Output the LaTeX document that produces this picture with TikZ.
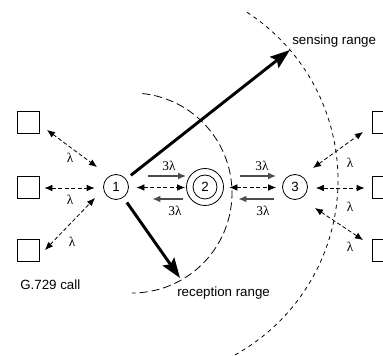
\documentclass[tikz,border=0pt]{standalone}
\usepackage{fontspec}
\setmainfont{Liberation Sans}
\newfontfamily\lamfont{Liberation Serif}
\usetikzlibrary{arrows.meta,calc}
\begin{document}
\begin{tikzpicture}[x=0.75pt,y=-0.75pt,
  every node/.style={font=\fontsize{10pt}{12pt}\selectfont},
  circnode/.style={circle,draw,line width=0.6pt,minimum size=18.75pt,inner sep=0pt},
  sqbox/.style={draw,line width=0.6pt,minimum size=16.5pt,inner sep=0pt},
  dar/.style={line width=0.6pt,dash pattern=on 3pt off 1.8pt,
    {Latex[length=6pt,width=5pt]}-{Latex[length=6pt,width=5pt]}},
  sar/.style={line width=0.9pt,draw=black!70,-{Latex[length=6pt,width=5pt]}},
  bigarrow/.style={line width=2.2pt,-{Stealth[length=15pt,width=10.5pt,inset=2.5pt]}},
  lam/.style={font=\lamfont\fontsize{10pt}{11pt}\selectfont,inner sep=0pt},
  rangelabel/.style={inner sep=0pt,anchor=west},
]
\useasboundingbox (0,0) rectangle (383,356);

% range arcs
\coordinate (rc) at (132,193);
\coordinate (sc) at (138,180);
\draw[line width=0.6pt,dash pattern=on 6pt off 3pt]
  ([shift={(84:75pt)}]rc) arc[start angle=84,end angle=-90,radius=75pt];
\draw[line width=0.6pt,dash pattern=on 3pt off 3pt]
  ([shift={(57:150pt)}]sc) arc[start angle=57,end angle=-61,radius=150pt];

% nodes
\node[circnode] (n1) at (116,187) {1};
\node[circnode,minimum size=27.75pt] (n2) at (205,187) {};
\node[circnode,minimum size=18pt] (n2i) at (n2) {2};
\node[circnode] (n3) at (295,187) {3};

\node[sqbox] (sq1) at (28,122.5) {};
\node[sqbox] (sq2) at (28,187) {};
\node[sqbox] (sq3) at (28,250) {};
\node[sqbox] (sq4) at (383,122.5) {};
\node[sqbox] (sq5) at (383,187) {};
\node[sqbox] (sq6) at (383,250) {};

% left dashed links
\draw[dar] ([shift={(19,7.5)}]sq1.center) -- ([shift={(-19,-20)}]n1.center);
\draw[dar] ([shift={(5,1)}]sq2.east) -- ([shift={(-8.5,1)}]n1.west);
\draw[dar] ([shift={(17,0)}]sq3.center) -- ([shift={(-21,11)}]n1.center);
\node[lam] (l1) at (70,158) {λ};
\node[lam] (l2) at (70,200) {λ};
\node[lam] (l3) at (72,242) {λ};

% right dashed links
\draw[dar] ([shift={(18,-19)}]n3.center) -- ([shift={(-20,9.5)}]sq4.center);
\draw[dar] ([shift={(8,1)}]n3.east) -- ([shift={(-7,1)}]sq5.west);
\draw[dar] ([shift={(20,21)}]n3.center) -- ([shift={(-20,-10)}]sq6.center);
\node[lam] (l4) at (350,163) {λ};
\node[lam] (l5) at (350,207) {λ};
\node[lam] (l6) at (350,247) {λ};

% 1 <-> 2
\draw[sar] ([shift={(19.5,-11)}]n1.east) -- ([shift={(0,-11)}]n2.west);
\draw[dar] ([shift={(7.5,0.5)}]n1.east) -- ([shift={(-1,0.5)}]n2.west);
\draw[sar] ([shift={(-3,12)}]n2.west) -- ([shift={(23.5,12)}]n1.east);
\node[lam] (t1) at (169,166) {3λ};
\node[lam] (t2) at (175,211) {3λ};

% 2 <-> 3
\draw[sar] ([shift={(16.5,-11)}]n2.east) -- ([shift={(-6,-11)}]n3.west);
\draw[dar] ([shift={(5.5,0.5)}]n2.east) -- ([shift={(-6,0.5)}]n3.west);
\draw[sar] ([shift={(-8,12)}]n3.west) -- ([shift={(14.5,12)}]n2.east);
\node[lam] (t3) at (262,166) {3λ};
\node[lam] (t4) at (263,211) {3λ};

% thick range arrows
\coordinate (stip) at (290,50);
\coordinate (rtip) at (180,278);
\draw[bigarrow,shorten <=4.5pt] (n1) -- (stip);
\draw[bigarrow,shorten <=4.5pt] (n1) -- (rtip);

% labels
\node[rangelabel] (slab) at (292,41) {sensing range};
\node[rangelabel] (rlab) at (177,293) {reception range};
\node[rangelabel] (glab) at (20,285) {G.729 call};
\end{tikzpicture}
\end{document}
